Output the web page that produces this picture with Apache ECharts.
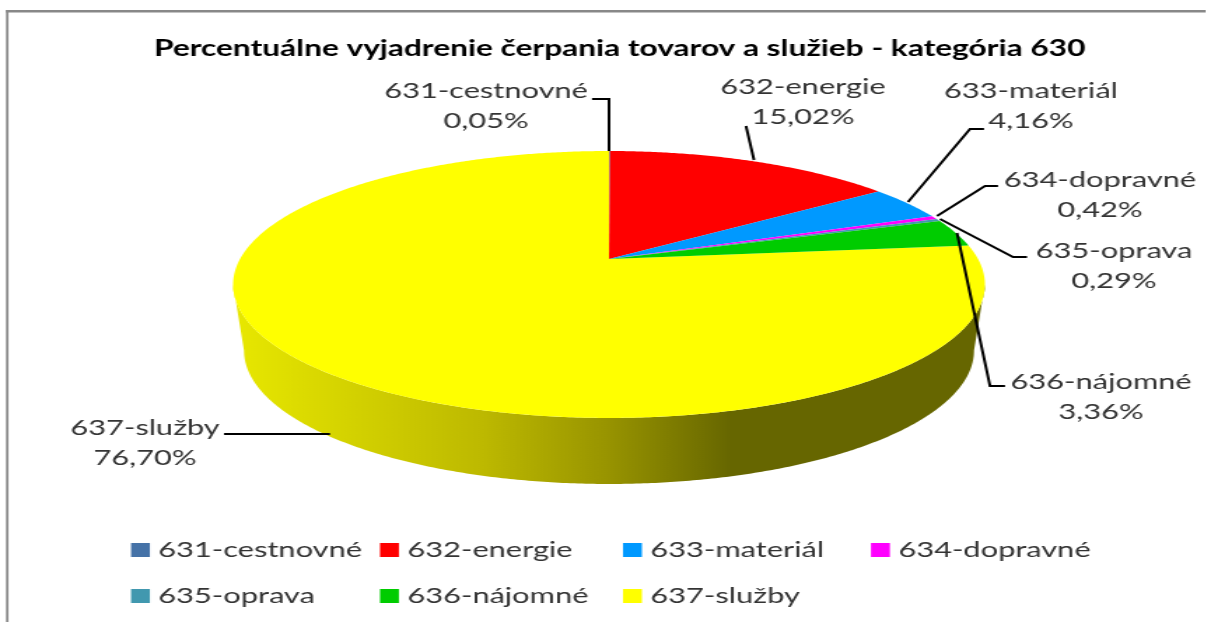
<!DOCTYPE html>
<html><head><meta charset="utf-8">
<style>html,body{margin:0;padding:0;background:#fff;overflow:hidden}
#c{width:862px;height:622px;transform:scaleX(1.4);transform-origin:0 0}</style>
<script src="https://cdn.jsdelivr.net/npm/echarts@6/dist/echarts.min.js"></script>
</head><body><div id="c"></div>
<script>
const categories=['631-cestnovné','632-energie','633-materiál','634-dopravné','635-oprava','636-nájomné','637-služby'];
const shares=[0.05,15.02,4.16,0.42,0.29,3.36,76.70];
const colors=['#4572A7','#FF0000','#0099FF','#FF00FF','#4198AF','#00CC00','#FFFF00'];
const titleText='Percentuálne vyjadrenie čerpania tovarov a služieb - kategória 630';
const labelCenters=[[486,91],[803,87],[1031,91],[1100,180],[1114,251],[1101,382],[145,428]];
const leaders=[
 [[609,151],[609,99],[592,99]],
 [[754,160],[746,126]],
 [[908,202],[970,129],[984,129]],
 [[937,216],[985,186],[998,186]],
 [[940,219],[1013,257],[1027,257]],
 [[957,233],[990,386],[1005,386]],
 [[330,434],[224,434]]
];
const S=1.4, CX=609, CY=259, B=369, A=128.6, K=0.191, DEPTH=66, BOTTOM_X=0.971;
const X=p=>p/S;
function pt(deg,dy,xs){
  const t=deg*Math.PI/180, w=1+K*Math.cos(t);
  return [X(CX+xs*B*Math.sin(t)/w), CY+dy-A*Math.cos(t)/w];
}
function arc(a,b,dy,xs){
  const n=Math.max(2,Math.ceil(Math.abs(b-a)*2)), r=[];
  for(let i=0;i<=n;i++) r.push(pt(a+(b-a)*i/n,dy,xs));
  return r;
}
const total=shares.reduce((a,b)=>a+b,0);
const fmt=v=>v.toFixed(2).replace('.',',')+'%';
function renderSlice(index){
  return function(params,api){
    const v=api.value(0);
    const before=shares.slice(0,index).reduce((a,b)=>a+b,0);
    const a0=before/total*360, a1=(before+v)/total*360;
    const color=api.visual('color');
    const kids=[];
    if(index===6){
      const lo=101,hi=259;
      const pts=arc(lo,hi,0,1).concat(arc(hi,lo,DEPTH,BOTTOM_X));
      kids.push({type:'polygon',shape:{points:pts},style:{fill:{type:'linear',x:X(233),y:0,x2:X(732),y2:0,global:true,
        colorStops:[{offset:0,color:'#E8E800'},{offset:0.5,color:'#BDB900'},{offset:0.75,color:'#989400'},{offset:1,color:'#666600'}]}}});
    }
    kids.push({type:'polygon',shape:{points:[[X(CX),CY]].concat(arc(a0,a1,0,1))},style:{fill:color}});
    kids.push({type:'polyline',shape:{points:leaders[index].map(p=>[X(p[0]),p[1]])},
      style:{stroke:'#000',lineWidth:2,fill:null},z2:10});
    kids.push({type:'text',x:X(labelCenters[index][0]),y:labelCenters[index][1]+15,z2:11,
      style:{text:categories[index]+'\n'+fmt(v),font:'22px Lato',fill:'#333',textAlign:'center',textVerticalAlign:'middle',lineHeight:30}});
    return {type:'group',children:kids};
  };
}
const series=categories.map((name,i)=>({
  name,type:'custom',coordinateSystem:'none',z:i===6?1:2,
  itemStyle:{color:colors[i]},data:[[shares[i]]],renderItem:renderSlice(i),silent:true,animation:false
}));
const legendColumns=[[[0,4],131],[[1,5],380],[[2,6],623],[[3],871]];
const chart=echarts.init(document.getElementById('c'),null,{renderer:'canvas'});
chart.setOption({
  animation:false,backgroundColor:'#fff',
  title:{text:titleText,left:X(154),top:37,padding:0,textStyle:{fontFamily:'Lato',fontSize:22.6,fontWeight:'bold',color:'#000'}},
  legend:legendColumns.map(([idx,x])=>({
    orient:'vertical',left:X(x),top:539,padding:0,itemGap:24,itemWidth:13.5,itemHeight:14,icon:'rect',
    selectedMode:false,data:idx.map(i=>categories[i]),
    textStyle:{fontFamily:'Lato',fontSize:22,color:'#333',padding:[0,0,0,1]}
  })),
  graphic:[
    {type:'rect',shape:{x:X(6),y:10,width:X(2.5),height:612},style:{fill:'#888'},silent:true},
    {type:'rect',shape:{x:X(6),y:10,width:X(1200),height:2.5},style:{fill:'#888'},silent:true}
  ],
  series
});
</script></body></html>
